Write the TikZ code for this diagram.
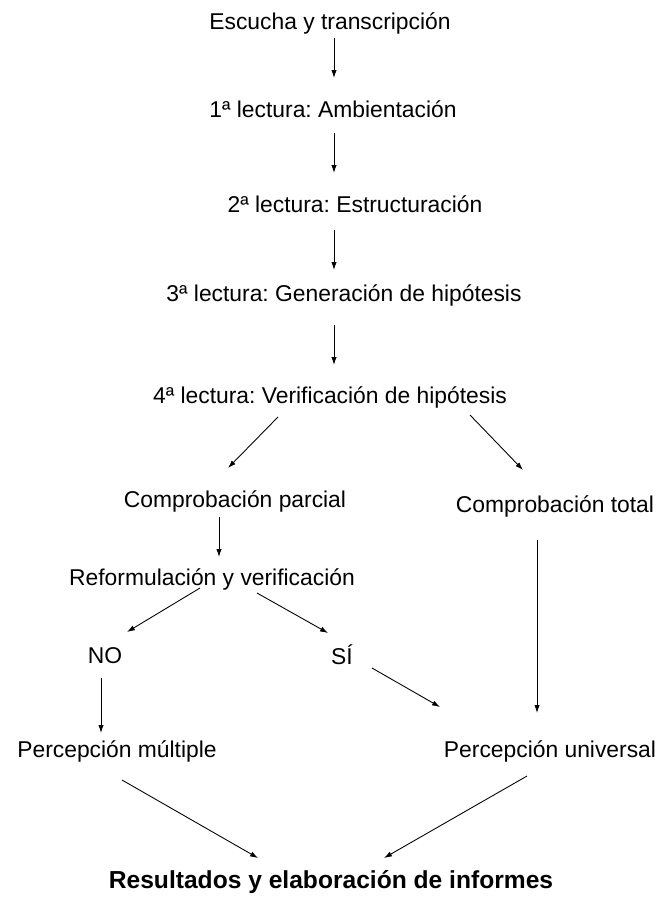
\documentclass[tikz,border=0pt]{standalone}
\usepackage{fontspec}
\setmainfont{Liberation Sans}
\usetikzlibrary{arrows.meta}
\frenchspacing

\tikzstyle{paso}=[anchor=base, inner sep=0pt, font=\fontsize{13}{15}\selectfont]
\tikzstyle{final}=[paso, font=\fontsize{14}{16}\selectfont\bfseries]
\tikzstyle{arrow}=[line width=0.5pt, -{Latex[length=4.5pt,width=3pt]}]

\begin{document}
\begin{tikzpicture}[x=0.02cm, y=-0.02cm]
      \useasboundingbox (0, 0) rectangle (657, 901);

      \node[paso] (esc) at (330, 30) {Escucha y transcripción};
      \node[paso] (amb) at (333, 118) {1ª lectura: Ambientación};
      \node[paso] (est) at (355, 213) {2ª lectura: Estructuración};
      \node[paso] (gen) at (344, 302) {3ª lectura: Generación de hipótesis};
      \node[paso] (ver) at (330, 403) {4ª lectura: Verificación de hipótesis};
      \node[paso] (parc) at (235, 507) {Comprobación parcial};
      \node[paso] (tot) at (555, 512) {Comprobación total};
      \node[paso] (ref) at (212, 585) {Reformulación y verificación};
      \node[paso] (no) at (105, 663) {NO};
      \node[paso] (si) at (342, 664) {SÍ};
      \node[paso] (mult) at (117, 757) {Percepción múltiple};
      \node[paso] (univ) at (550, 757) {Percepción universal};
      \node[final] (res) at (331, 888) {Resultados y elaboración de informes};

      \draw[arrow] ([shift={(4,8)}]esc.base) to ([shift={(1,-40)}]amb.base);
      \draw[arrow] ([shift={(1,15)}]amb.base) to ([shift={(-21,-40)}]est.base);
      \draw[arrow] ([shift={(-21,17)}]est.base) to ([shift={(-10,-32)}]gen.base);
      \draw[arrow] ([shift={(-10,23)}]gen.base) to ([shift={(4,-38)}]ver.base);
      \draw[arrow] ([shift={(-52,14)}]ver.base) to ([shift={(-7,-39)}]parc.base);
      \draw[arrow] ([shift={(140,12)}]ver.base) to ([shift={(-32,-42)}]tot.base);
      \draw[arrow] ([shift={(-16,10)}]parc.base) to ([shift={(7,-28)}]ref.base);
      \draw[arrow] ([shift={(-12,3)}]ref.base) to ([shift={(22,-31)}]no.base);
      \draw[arrow] ([shift={(45,8)}]ref.base) to ([shift={(-14,-31)}]si.base);
      \draw[arrow] ([shift={(-18,28)}]tot.base) to ([shift={(-13,-44)}]univ.base);
      \draw[arrow] ([shift={(30,4)}]si.base) to ([shift={(-110,-50)}]univ.base);
      \draw[arrow] ([shift={(-4,15)}]no.base) to ([shift={(-16,-24)}]mult.base);
      \draw[arrow] ([shift={(5,23)}]mult.base) to ([shift={(-73,-30)}]res.base);
      \draw[arrow] ([shift={(-23,19)}]univ.base) to ([shift={(53,-30)}]res.base);
    \end{tikzpicture}
\end{document}
